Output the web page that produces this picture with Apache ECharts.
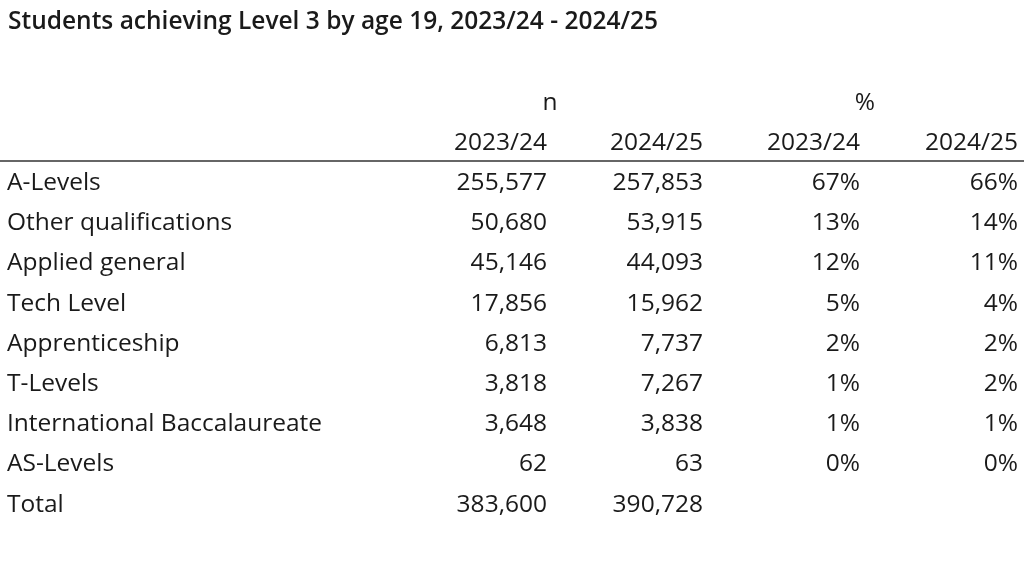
<!DOCTYPE html>
<html>
<head>
<meta charset="utf-8">
<script src="https://cdn.jsdelivr.net/npm/echarts@6/dist/echarts.min.js"></script>
<style>html,body{margin:0;padding:0;background:#fff}#chart{width:1024px;height:566px}</style>
</head>
<body>
<div id="chart"></div>
<script>
var title = 'Students achieving Level 3 by age 19, 2023/24 - 2024/25';
var groupHeaders = ['n', '%'];
var yearHeaders = ['2023/24', '2024/25', '2023/24', '2024/25'];
var categories = ['A-Levels', 'Other qualifications', 'Applied general', 'Tech Level',
	'Apprenticeship', 'T-Levels', 'International Baccalaureate', 'AS-Levels', 'Total'];
var n2324 = [255577, 50680, 45146, 17856, 6813, 3818, 3648, 62, 383600];
var n2425 = [257853, 53915, 44093, 15962, 7737, 7267, 3838, 63, 390728];
var pct2324 = [67, 13, 12, 5, 2, 1, 1, 0, null];
var pct2425 = [66, 14, 11, 4, 2, 2, 1, 0, null];

var font = '"Open Sans", sans-serif';
var color = '#1a1a1a';
var colRight = [547, 703, 860, 1018];
var groupX = [550, 865];
var rowTop = 183, rowStep = 40.2;

function txt(x, y, s, align, extra) {
	var st = { text: s, x: x, y: y, fill: color, font: '24.5px ' + font, textAlign: align, textVerticalAlign: 'middle' };
	if (extra) { for (var k in extra) st[k] = extra[k]; }
	return { type: 'text', style: st };
}
function fmt(v) { return v.toLocaleString('en-GB'); }

var els = [];
els.push(txt(8, 22, title, 'left', { font: '600 24.5px ' + font }));
groupHeaders.forEach(function (h, i) { els.push(txt(groupX[i], 103, h, 'center')); });
yearHeaders.forEach(function (h, i) { els.push(txt(colRight[i], 143, h, 'right')); });
els.push({ type: 'line', shape: { x1: 0, y1: 161, x2: 1024, y2: 161 }, style: { stroke: '#333', lineWidth: 1.5 } });

categories.forEach(function (c, i) {
	var y = rowTop + i * rowStep;
	els.push(txt(7, y, c, 'left'));
	els.push(txt(colRight[0], y, fmt(n2324[i]), 'right'));
	els.push(txt(colRight[1], y, fmt(n2425[i]), 'right'));
	if (pct2324[i] != null) els.push(txt(colRight[2], y, pct2324[i] + '%', 'right'));
	if (pct2425[i] != null) els.push(txt(colRight[3], y, pct2425[i] + '%', 'right'));
});

var chart = echarts.init(document.getElementById('chart'));
chart.setOption({ backgroundColor: '#fff', graphic: els });
</script>
</body>
</html>
